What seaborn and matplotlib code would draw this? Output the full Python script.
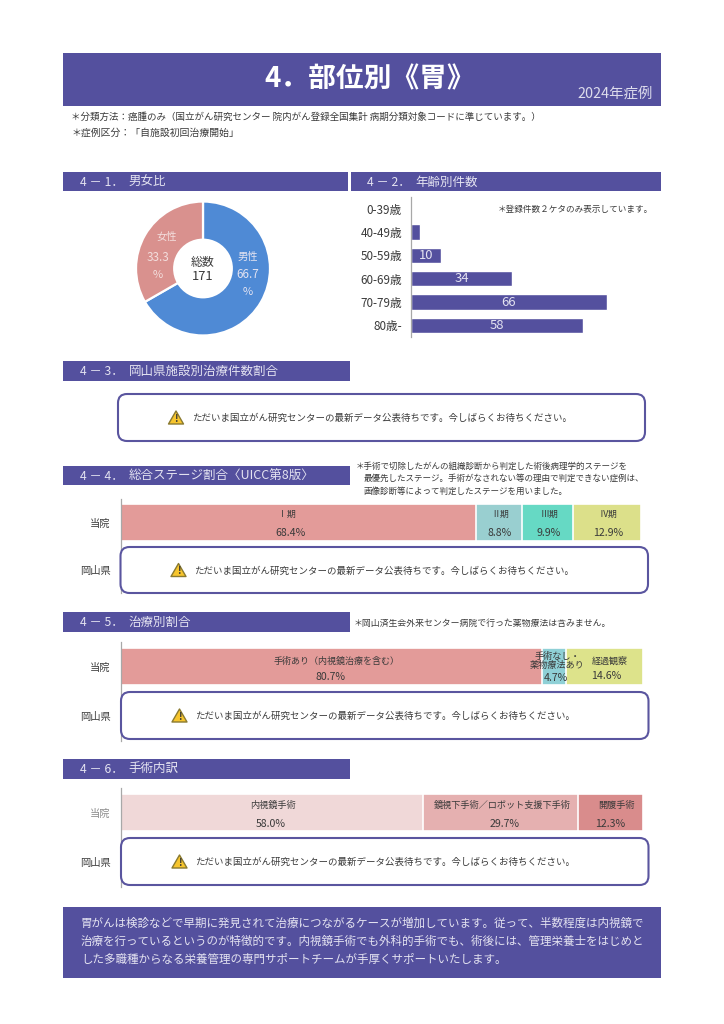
import matplotlib
matplotlib.use("Agg")
import matplotlib.pyplot as plt
from matplotlib.patches import FancyBboxPatch, Polygon, Rectangle
import seaborn as sns

# data
sex_labels = ["男性", "女性"]
sex_values = [66.7, 33.3]
total_count = 171

age_labels = ["0-39歳", "40-49歳", "50-59歳", "60-69歳", "70-79歳", "80歳-"]
age_values = [0, 3, 10, 34, 66, 58]

rows = ["当院", "岡山県"]
stage_labels = ["Ⅰ期", "Ⅱ期", "Ⅲ期", "Ⅳ期"]
stage_values = [68.4, 8.8, 9.9, 12.9]
treat_labels = ["手術あり（内視鏡治療を含む）", "手術なし・\n薬物療法あり", "経過観察"]
treat_values = [80.7, 4.7, 14.6]
surgery_labels = ["内視鏡手術", "鏡視下手術／ロボット支援下手術", "開腹手術"]
surgery_values = [58.0, 29.7, 12.3]

PURPLE = "#54509E"
LIGHT = "#E4E3F1"
DARK = "#3A3A3A"
WAIT_MSG = "ただいま国立がん研究センターの最新データ公表待ちです。今しばらくお待ちください。"

sns.set_theme(style="white")
plt.rcParams["font.family"] = ["Noto Sans CJK JP", "DejaVu Sans"]

W, H = 724, 1024
fig = plt.figure(figsize=(W / 100, H / 100), dpi=100)

# page layer in pixel coordinates, for the banners and free text
page = fig.add_axes([0, 0, 1, 1], zorder=5)
page.set_xlim(0, W)
page.set_ylim(H, 0)
page.axis("off")
page.patch.set_alpha(0)


def px_axes(x0, y0, x1, y1):
    ax = fig.add_axes([x0 / W, 1 - y1 / H, (x1 - x0) / W, (y1 - y0) / H])
    ax.patch.set_alpha(0)
    return ax


def text(x, y, s, size=6.8, color=DARK, ha="center", **kw):
    # the CJK face sits a little high when centred
    page.text(x, y + 0.7, s, fontsize=size, color=color, ha=ha, va="center", **kw)


def banner(x0, y0, x1, y1, num=None, label=None, tx=None):
    page.add_patch(Rectangle((x0, y0), x1 - x0, y1 - y0, fc=PURPLE, ec="none"))
    if label:
        cy = (y0 + y1) / 2
        text(tx, cy, num, size=8.8, color=LIGHT, ha="left")
        text(tx + 48.5, cy, label, size=9.0, color=LIGHT, ha="left")


def notice(x0, y0, x1, y1, ix, tx):
    page.add_patch(FancyBboxPatch((x0 + 8, y0 + 8), x1 - x0 - 16, y1 - y0 - 16,
                                  boxstyle="round,pad=8,rounding_size=9",
                                  fc="white", ec="#5A559F", lw=1.5))
    cy = (y0 + y1) / 2
    page.add_patch(Polygon([(ix, cy - 6.5), (ix + 7.5, cy + 6.5), (ix - 7.5, cy + 6.5)],
                           closed=True, fc="#F7C52D", ec="#8A7A30", lw=1.0, joinstyle="round"))
    text(ix, cy + 0.5, "!", size=7, color="#333333", weight="bold")
    text(tx, cy, WAIT_MSG, size=6.8, ha="left")


def stacked(y0, y1, x1, values, colors, bar_w, row_colors):
    # stacked look: cumulative bars, longest first
    ax = px_axes(120.5, y0, x1, y1)
    cums = [sum(values[:i + 1]) for i in range(len(values))]
    for cum, col in reversed(list(zip(cums, colors))):
        sns.barplot(x=[cum], y=[rows[0]], order=rows, color=col, saturation=1,
                    width=bar_w, edgecolor="white", linewidth=1.2, ax=ax)
    ax.set_xlim(0, 100)
    ax.set_ylim(1.5, -0.5)
    ax.set(xlabel="", ylabel="", xticks=[])
    sns.despine(ax=ax, top=True, right=True, bottom=True)
    ax.spines["left"].set_color("#A8A8A8")
    ax.spines["left"].set_linewidth(0.9)
    ax.tick_params(axis="y", length=0, pad=7, labelsize=7.4)
    for lab, col in zip(ax.get_yticklabels(), row_colors):
        lab.set_color(col)
    return ax


# title block
banner(63, 53, 661, 106)
text(370, 79, "4．部位別《胃》", size=20, color="white", weight="bold")
text(653, 93, "2024年症例", size=10.4, color="#DDDCEC", ha="right")
text(71, 116, "＊分類方法：癌腫のみ（国立がん研究センター 院内がん登録全国集計 病期分類対象コードに準じています。）",
     size=6.85, ha="left")
text(71, 132, "＊症例区分：「自施設初回治療開始」", size=7.1, ha="left")

# section banners
banner(63, 172, 348, 191, "4 － 1．", "男女比", 80)
banner(351, 172, 661, 191, "4 － 2．", "年齢別件数", 367)
banner(63, 361, 350, 381, "4 － 3．", "岡山県施設別治療件数割合", 80)
banner(63, 466, 350, 485, "4 － 4．", "総合ステージ割合〈UICC第8版〉", 80)
banner(63, 612, 350, 632, "4 － 5．", "治療別割合", 80)
banner(63, 759, 350, 779, "4 － 6．", "手術内訳", 80)

# donut
pie_ax = px_axes(132, 197.5, 274, 339.5)
pie_ax.pie(sex_values, startangle=90, counterclock=False, radius=1,
           colors=["#4F8AD5", "#D9918E"],
           wedgeprops=dict(width=0.57, edgecolor="white", linewidth=1.6))
pie_ax.set_xlim(-1.06, 1.06)
pie_ax.set_ylim(-1.06, 1.06)
text(203, 261.5, "総数", size=8.6)
text(203, 276, str(total_count), size=9.4)
text(248, 256, sex_labels[0], size=7.4, color=LIGHT)
text(248, 274, f"{sex_values[0]}", size=8.4, color=LIGHT)
text(248, 291, "%", size=8, color=LIGHT)
text(167, 236, sex_labels[1], size=7.4, color="#F3DEDD")
text(158, 257, f"{sex_values[1]}", size=8.4, color="#F3DEDD")
text(158, 274, "%", size=8, color="#F3DEDD")

# age bars
age_ax = px_axes(411, 197, 661, 337)
sns.barplot(x=age_values, y=age_labels, order=age_labels, color=PURPLE, saturation=1,
            width=0.66, ax=age_ax)
age_ax.set_xlim(0, 84.2)
age_ax.set(xlabel="", ylabel="", xticks=[])
sns.despine(ax=age_ax, top=True, right=True, bottom=True)
age_ax.spines["left"].set_color("#A8A8A8")
age_ax.spines["left"].set_linewidth(0.9)
age_ax.tick_params(axis="y", length=0, pad=6.5, labelsize=8.4, labelcolor=DARK)
age_ax.bar_label(age_ax.containers[0], label_type="center", color=LIGHT, fontsize=9.4,
                 labels=[str(v) if v >= 10 else "" for v in age_values])
text(498, 209, "＊登録件数２ケタのみ表示しています。", size=6.2, ha="left")

# 4-3
notice(118, 394, 645, 441, 176, 192)

# 4-4
text(356, 466, "＊手術で切除したがんの組織診断から判定した術後病理学的ステージを", size=6.15, ha="left")
text(364, 478, "最優先したステージ。手術がなされない等の理由で判定できない症例は、", size=6.15, ha="left")
text(364, 491, "画像診断等によって判定したステージを用いました。", size=6.15, ha="left")
stacked(499, 593, 640.5, stage_values,
        ["#E39B99", "#99CFD0", "#66D9C4", "#DCE08A"], 0.77, [DARK, DARK])
for cx, px, lab, val in zip([287, 500.5, 549, 608], [290, 500, 548.5, 608], stage_labels, stage_values):
    text(cx, 514, lab, size=6.4)
    text(px, 532, f"{val}%", size=7.6)
notice(120.5, 547, 648, 593, 178.5, 194)

# 4-5
text(354, 623, "＊岡山済生会外来センター病院で行った薬物療法は含みません。", size=6.4, ha="left")
stacked(642, 741, 642.5, treat_values, ["#E39B99", "#8FD0D6", "#DDE38B"], 0.75, [DARK, DARK])
text(336.5, 661, treat_labels[0], size=6.5)
text(331, 676, f"{treat_values[0]}%", size=7.6)
text(557, 660.5, treat_labels[1], size=6.6, linespacing=1.05)
text(556, 677.5, f"{treat_values[1]}%", size=7.6)
text(610, 660, treat_labels[2], size=6.5)
text(606.5, 675, f"{treat_values[2]}%", size=7.6)
notice(121, 692, 648.5, 739, 179.5, 195.5)

# 4-6
stacked(788, 887, 642.5, surgery_values, ["#F0D8D8", "#E5B0B0", "#D98C8C"], 0.75, ["#8A8A8A", DARK])
for cx, px, lab, val in zip([273, 502, 616], [271, 504.5, 610.5], surgery_labels, surgery_values):
    text(cx, 805, lab, size=6.6)
    text(px, 823, f"{val}%", size=7.6)
notice(121, 838, 648.5, 885, 179.5, 195.5)

# comment block at the bottom
banner(63, 907, 661, 978)
comment_lines = [
    "胃がんは検診などで早期に発見されて治療につながるケースが増加しています。従って、半数程度は内視鏡で",
    "治療を行っているというのが特徴的です。内視鏡手術でも外科的手術でも、術後には、管理栄養士をはじめと",
    "した多職種からなる栄養管理の専門サポートチームが手厚くサポートいたします。",
]
for y, line in zip([923, 941, 959], comment_lines):
    text(81, y, line, size=8.3, color=LIGHT, ha="left")

fig.savefig("out.png", dpi=100, facecolor="white")
